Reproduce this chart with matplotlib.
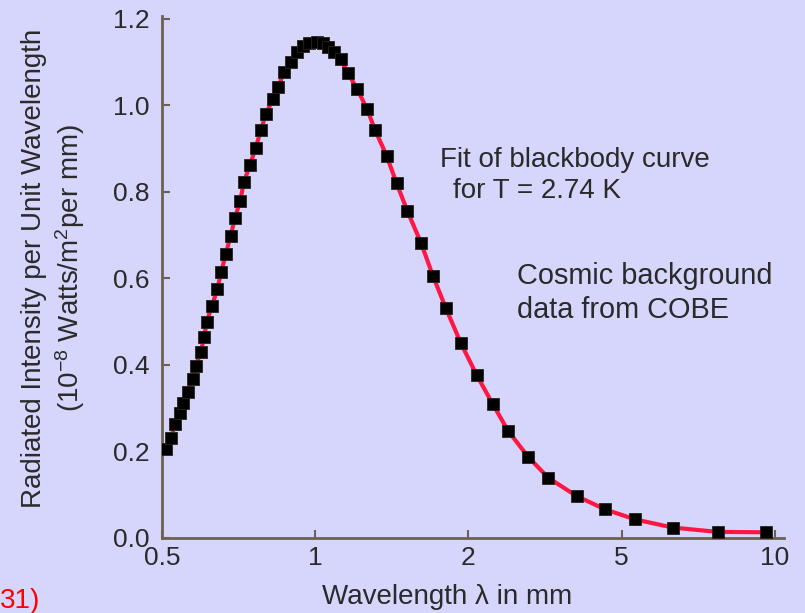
import numpy as np
import matplotlib
matplotlib.use('Agg')
import matplotlib.pyplot as plt

# wavelength (mm) and intensity (1e-8 W/m^2 per mm)
wavelength = [0.509, 0.521, 0.530, 0.542, 0.550, 0.562, 0.574, 0.583, 0.596, 0.605,
              0.612, 0.627, 0.642, 0.654, 0.667, 0.682, 0.696, 0.712, 0.725, 0.744,
              0.764, 0.782, 0.800, 0.825, 0.846, 0.868, 0.895, 0.920, 0.945, 0.973,
              1.006, 1.034, 1.061, 1.088, 1.122, 1.158, 1.210, 1.265, 1.310, 1.381,
              1.445, 1.517, 1.614, 1.703, 1.806, 1.933, 2.100, 2.311, 2.538, 2.855,
              3.224, 3.817, 4.529, 5.308, 6.295, 7.716, 9.600]
intensity = [0.205, 0.229, 0.262, 0.288, 0.312, 0.337, 0.366, 0.397, 0.430, 0.463,
             0.499, 0.536, 0.574, 0.615, 0.655, 0.698, 0.739, 0.779, 0.823, 0.861,
             0.901, 0.942, 0.979, 1.013, 1.041, 1.077, 1.100, 1.123, 1.137, 1.143,
             1.145, 1.143, 1.135, 1.123, 1.106, 1.075, 1.036, 0.990, 0.943, 0.883,
             0.819, 0.755, 0.681, 0.605, 0.530, 0.449, 0.376, 0.309, 0.246, 0.187,
             0.138, 0.096, 0.065, 0.042, 0.023, 0.013, 0.012]

x_ticks = [0.5, 1, 2, 5, 10]
x_tick_labels = ['0.5', '1', '2', '5', '10']
y_ticks = [0.0, 0.2, 0.4, 0.6, 0.8, 1.0, 1.2]

plt.rcParams['font.family'] = ['Liberation Sans', 'DejaVu Sans']
plt.rcParams['mathtext.fontset'] = 'custom'
plt.rcParams['mathtext.rm'] = 'Liberation Sans'
plt.rcParams['mathtext.it'] = 'Liberation Sans'

bg = '#d6d6fc'
text_col = '#2a2a2a'
spine_col = '#6b6250'

# the original axis puts 0.5, 1, 2, 5, 10 at equal spacing
log_ticks = np.log(x_ticks)
pos = np.arange(len(x_ticks), dtype=float)


def forward(v):
    v = np.clip(np.asarray(v, dtype=float), 1e-6, None)
    lv = np.log(v)
    out = np.interp(lv, log_ticks, pos)
    lo = lv < log_ticks[0]
    hi = lv > log_ticks[-1]
    out = np.where(lo, (lv - log_ticks[0]) / (log_ticks[1] - log_ticks[0]), out)
    out = np.where(hi, pos[-1] + (lv - log_ticks[-1]) / (log_ticks[-1] - log_ticks[-2]), out)
    return out


def inverse(p):
    p = np.asarray(p, dtype=float)
    out = np.exp(np.interp(p, pos, log_ticks))
    out = np.where(p < 0, np.exp(log_ticks[0] + p * (log_ticks[1] - log_ticks[0])), out)
    out = np.where(p > pos[-1], np.exp(log_ticks[-1] + (p - pos[-1]) * (log_ticks[-1] - log_ticks[-2])), out)
    return out


fig = plt.figure(figsize=(8.05, 6.13), dpi=100, facecolor=bg)
ax = fig.add_axes([162 / 805, 75.5 / 613, 622 / 805, 521.5 / 613])
ax.set_facecolor(bg)

ax.set_xscale('function', functions=(forward, inverse))
ax.set_xlim(0.5, 10.42)
ax.set_ylim(0, 1.2058)

ax.plot(wavelength, intensity, color='#ff1744', lw=3, zorder=2)
ax.plot(wavelength, intensity, ls='none', marker='s', ms=8.5, color='black',
        mec='#2a2418', mew=0.6, zorder=3)

ax.set_xticks(x_ticks)
ax.set_xticklabels(x_tick_labels)
ax.xaxis.set_minor_locator(matplotlib.ticker.NullLocator())
ax.set_yticks(y_ticks)
ax.set_yticklabels([f'{t:.1f}' for t in y_ticks])

for s in ['top', 'right']:
    ax.spines[s].set_visible(False)
for s in ['left', 'bottom']:
    ax.spines[s].set_color(spine_col)
    ax.spines[s].set_linewidth(2)

ax.tick_params(direction='in', length=6, width=1.5, color=spine_col,
               labelsize=19, labelcolor=text_col)
ax.tick_params(axis='y', pad=9)
ax.tick_params(axis='x', pad=6)

fig.text(447.5 / 805, 1 - 597 / 613, 'Wavelength \u03bb in mm', fontsize=20,
         color=text_col, ha='center', va='center')
fig.text(54 / 805, 1 - 268 / 613,
         'Radiated Intensity per Unit Wavelength\n'
         r'(10$^{-8}$ Watts/m$^{2}$per mm)', fontsize=20, color=text_col,
         rotation=90, ha='center', va='center', multialignment='center',
         linespacing=1.25)

fig.text(440 / 805, 1 - 160 / 613, 'Fit of blackbody curve',
         fontsize=20, color=text_col, va='center')
fig.text(453 / 805, 1 - 191 / 613, 'for T = 2.74 K',
         fontsize=20, color=text_col, va='center')
fig.text(517 / 805, 1 - 276 / 613, 'Cosmic background',
         fontsize=20.8, color=text_col, va='center')
fig.text(517 / 805, 1 - 310 / 613, 'data from COBE',
         fontsize=20.8, color=text_col, va='center')

fig.text(0.0, 1 - 601 / 613, '31)', color='#ff0000', fontsize=20, va='center')

fig.savefig('out.png', dpi=100, facecolor=bg)
